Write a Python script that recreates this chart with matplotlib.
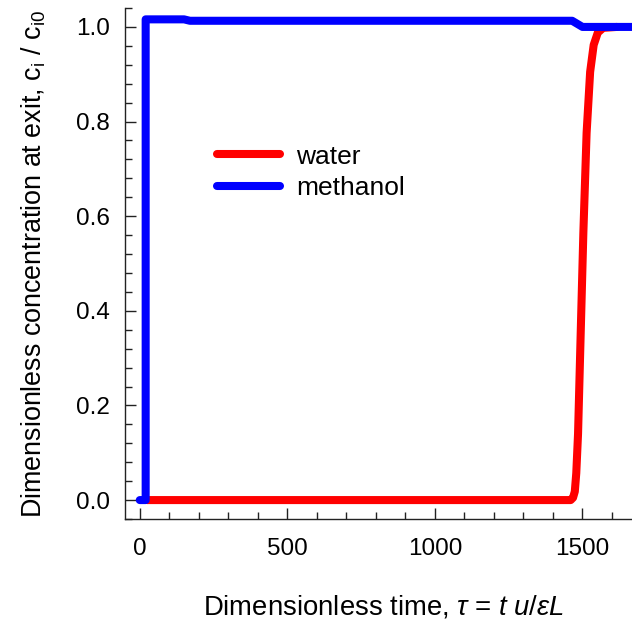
import matplotlib
matplotlib.use("Agg")
import matplotlib.pyplot as plt
from matplotlib.ticker import MultipleLocator

plt.rcParams['font.family'] = ['Liberation Sans', 'DejaVu Sans']
plt.rcParams['mathtext.fontset'] = 'custom'
plt.rcParams['mathtext.rm'] = 'Liberation Sans'
plt.rcParams['mathtext.it'] = 'Liberation Sans:italic'

# breakthrough curves
tau_water = [25, 1460, 1468, 1474, 1479, 1485, 1494, 1503, 1514, 1526, 1538, 1552, 1570, 1617]
c_water = [0.0, 0.0, 0.005, 0.018, 0.057, 0.14, 0.353, 0.565, 0.776, 0.905, 0.962, 0.988, 0.998, 1.0]

tau_methanol = [0, 20, 20, 150, 170, 1465, 1500, 1700]
c_methanol = [0.0, 0.0, 1.016, 1.016, 1.013, 1.013, 1.0, 1.0]

fig = plt.figure(figsize=(6.32, 6.30), dpi=100)
ax = fig.add_axes([125 / 632, 1 - 519 / 630, (641.5 - 125) / 632, (519 - 8) / 630])

ax.plot(tau_water, c_water, color='#ff0000', lw=5.8, solid_capstyle='round',
        solid_joinstyle='round', label='water', zorder=2)
ax.plot(tau_methanol, c_methanol, color='#0000ff', lw=5.8, solid_capstyle='round',
        solid_joinstyle='round', label='methanol', zorder=3)

ax.set_xlim(-50, 1700)
ax.set_ylim(-0.04, 1.04)
ax.xaxis.set_major_locator(MultipleLocator(500))
ax.xaxis.set_minor_locator(MultipleLocator(100))
ax.yaxis.set_major_locator(MultipleLocator(0.2))
ax.yaxis.set_minor_locator(MultipleLocator(0.04))
ax.yaxis.set_major_formatter(plt.FuncFormatter(lambda v, p: f"{v:.1f}"))

for s in ['top', 'right']:
    ax.spines[s].set_visible(False)
for s in ['left', 'bottom']:
    ax.spines[s].set_color('#222222')
    ax.spines[s].set_linewidth(1.0)

ax.tick_params(which='both', direction='in', color='#222222', width=1.0)
ax.tick_params(which='major', length=8, labelsize=17.5)
ax.tick_params(axis='x', which='major', pad=14)
ax.tick_params(axis='y', which='major', pad=11)
ax.tick_params(which='minor', length=5)

ax.set_xlabel(r"Dimensionless time, $\tau$ = $t$ $u$/$\varepsilon L$", fontsize=19.8, labelpad=24)
ax.set_ylabel(r"Dimensionless concentration at exit, c$_\mathregular{i}$ / c$_\mathregular{i0}$",
              fontsize=19.4, labelpad=20)

ax.legend(loc='upper left', bbox_to_anchor=(206 / 632, 1 - 134 / 630), bbox_transform=fig.transFigure,
          frameon=False, fontsize=19, handlelength=2.4, handletextpad=0.6, labelspacing=0.3,
          borderaxespad=0)

fig.savefig("out.png", dpi=100)
